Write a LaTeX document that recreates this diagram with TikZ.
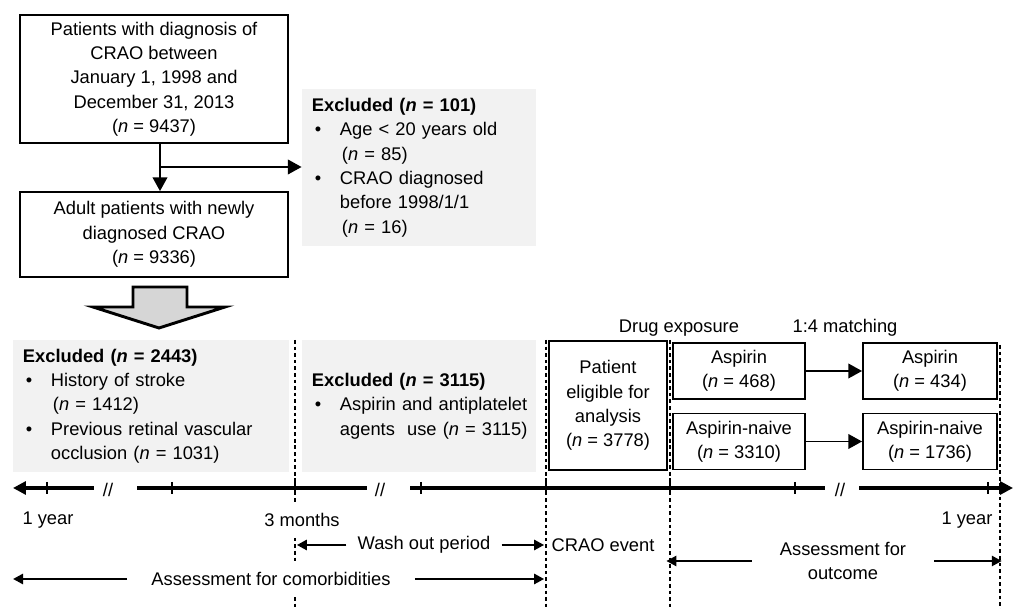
\documentclass[tikz,border=0pt]{standalone}
\usepackage{fontspec}
\setmainfont{Liberation Sans}
\usetikzlibrary{
	positioning,
	arrows.meta
}
\newdimen\pxu
\pxu=0.546pt
\newcommand{\nn}{\textit{n}}
\newcommand{\bul}{\makebox[28\pxu][l]{\hspace{3\pxu}•}}
\newcommand{\ind}{\hspace*{30\pxu}}
\newcommand{\lines}[1]{\begin{tabular}{@{}l@{}}#1\end{tabular}}
\definecolor{exgray}{gray}{0.95}
\definecolor{blkgray}{gray}{0.84}
\tikzset{
	box/.style={draw, line width=1pt, align=center, inner sep=0pt},
	excl/.style={fill=exgray, align=left, inner xsep=5.46pt, inner ysep=0pt},
	lbl/.style={inner sep=0pt},
	flow/.style={line width=1pt, -{Triangle[length=7.5pt,width=8pt]}},
	axis/.style={line width=1.7pt},
	period/.style={line width=1.5pt, -{Triangle[length=5.5pt,width=5.5pt]}},
	guide/.style={line width=0.6pt, dash pattern=on 2pt off 1.6pt}
}

\begin{document}
\begin{tikzpicture}[x=0.546pt, y=-0.546pt, font=\fontsize{10}{13.3}\selectfont]
	\useasboundingbox (0,0) rectangle (1013,609);

	\coordinate (split) at (160,167);
	\coordinate (tstart) at (13,488);
	\coordinate (g3m) at (295,340);
	\coordinate (gcrao) at (546,340);
	\coordinate (gdrug) at (670,340);
	\coordinate (gend) at (1000,345);
	\coordinate (floor) at (0,609);

	\foreach \g in {g3m,gcrao,gdrug,gend}
		\draw[guide] (\g) -- (\g |- floor);

	\draw
		node[box, minimum width=146.3pt, minimum height=69.9pt] (all) at (154,79)
			{Patients with diagnosis of\\CRAO between\\January 1, 1998 and\\December 31, 2013\\(\nn{} = 9437)}
		node[box, minimum width=146.3pt, minimum height=46.4pt] (adult) at (154,234.5)
			{Adult patients with newly\\diagnosed CRAO\\(\nn{} = 9336)}
		node[excl, minimum width=127.8pt, minimum height=85.7pt, text width=116.9pt] (ex1) at (419,167.5)
			{\lines{\textbf{Excluded (\nn{} = 101)}\\\bul Age < 20 years old\\\ind(\nn{} = 85)\\\bul CRAO diagnosed\\\hspace*{28\pxu}before 1998/1/1\\\ind(\nn{} = 16)}}
		node[excl, minimum width=150.7pt, minimum height=72.1pt, text width=139.8pt] (ex2) at (151,406)
			{\lines{\textbf{Excluded (\nn{} = 2443)}\\\bul History of stroke\\\ind(\nn{} = 1412)\\\bul Previous retinal vascular\\\hspace*{28\pxu}occlusion (\nn{} = 1031)}}
		node[excl, minimum width=127.8pt, minimum height=72.1pt, text width=116.9pt] (ex3) at (419,406)
			{\lines{\textbf{Excluded (\nn{} = 3115)}\\\bul Aspirin and antiplatelet\\\hspace*{28\pxu}agents\ \ use (\nn{} = 3115)}}
		node[box, minimum width=64.4pt, minimum height=70.4pt] (elig) at (608,405.5)
			{Patient\\eligible for\\analysis\\(\nn{} = 3778)}
		node[box, minimum width=72.1pt, minimum height=30.6pt] (asp) at (739,371)
			{Aspirin\\(\nn{} = 468)}
		node[box, minimum width=72.1pt, minimum height=30.6pt] (naive) at (739,441.5)
			{Aspirin-naive\\(\nn{} = 3310)}
		node[box, minimum width=73.2pt, minimum height=30.6pt] (aspm) at (930,371)
			{Aspirin\\(\nn{} = 434)}
		node[box, minimum width=73.2pt, minimum height=30.6pt] (naivem) at (930,441.5)
			{Aspirin-naive\\(\nn{} = 1736)}
		node[lbl] (drug) at (679,328) {Drug exposure}
		node[lbl] (match) at (845,328) {1:4 matching}

		(all.south -| split) edge[flow] (adult.north -| split)
		(split) edge[flow] (ex1.west |- split)
		(asp) edge[flow] (aspm)
		(naive) edge[flow] (naivem)
	;

	\draw[line width=1.6pt, fill=blkgray] (133,287) -- (187,287) -- (187,307) -- (225,307)
		-- (159,328) -- (93,307) -- (133,307) -- cycle;

	\draw[axis, {Triangle[length=7pt,width=7pt]}-] (tstart) -- (94,488);
	\draw[axis] (137,488) -- (367,488);
	\draw[axis] (410,488) -- (825,488);
	\draw[axis, -{Triangle[length=7pt,width=7pt]}] (859,488) -- (1013,488);
	\foreach \x in {47,172,295,421,546,670,795,988}
		\draw[line width=1.2pt] (\x,482) -- (\x,494);
	\foreach \x/\n in {108/brk1,380/brk2,840/brk3}
		\node[lbl] (\n) at (\x,490) {//};

	\node[lbl] (yr1) at (48,520) {1 year};
	\node[lbl, fill=white, inner xsep=1pt, inner ysep=5pt] (mon3) at (302,520) {3 months};
	\node[lbl] (yr2) at (967,520) {1 year};
	\node[lbl] (event) at (603,545) {CRAO event};
	\node[lbl, inner xsep=6pt] (wash) at (424,545) {Wash out period};
	\node[lbl, fill=white, inner xsep=13pt, inner ysep=5pt] (comorb) at (271,579) {Assessment for comorbidities};
	\node[lbl, inner xsep=15.3pt, align=center] (outc) at (843,561) {Assessment for\\outcome};

	\draw[period, shorten >=1pt] (wash.west) -- (wash.west -| g3m);
	\draw[period, shorten >=1pt] (wash.east) -- (wash.east -| gcrao);
	\draw[period] (comorb.west) -- (comorb.west -| tstart);
	\draw[period, shorten >=1pt] (comorb.east) -- (comorb.east -| gcrao);
	\draw[period, shorten >=-2pt] (outc.west) -- (outc.west -| gdrug);
	\draw[period, shorten >=-1pt] (outc.east) -- (outc.east -| gend);
\end{tikzpicture}
\end{document}
